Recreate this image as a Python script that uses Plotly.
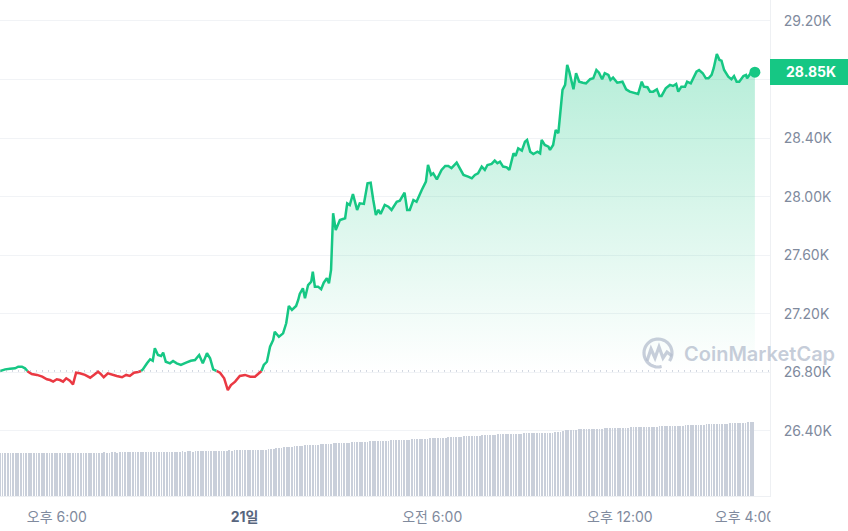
import numpy as np
import plotly.graph_objects as go

# ---------------- data ----------------
START_CLOCK = 16 * 60 + 11  # first sample: 16:11 on the 20th (minutes of day)

t_min = [0, 10, 19, 29, 35, 42, 48, 54, 61, 71, 81, 90, 96, 102, 109, 115, 121, 127, 134, 140,
         146, 153, 163, 173, 180, 188, 194, 199, 207, 215, 224, 234, 242, 249, 257, 265, 269, 274, 282, 288,
         293, 297, 303, 309, 313, 318, 326, 332, 339, 347, 357, 366, 374, 382, 389, 397, 403, 409, 414, 422,
         430, 433, 437, 443, 451, 460, 470, 480, 489, 495, 501, 506, 512, 518, 524, 527, 535, 543, 549, 554,
         560, 568, 572, 575, 581, 585, 591, 597, 600, 604, 610, 616, 621, 627, 631, 635, 639, 644, 652, 662,
         666, 671, 677, 685, 690, 698, 705, 711, 716, 721, 726, 730, 738, 745, 751, 761, 767, 776, 781, 786,
         793, 799, 809, 817, 821, 827, 831, 838, 847, 854, 860, 866, 876, 882, 889, 898, 905, 911, 917, 924,
         930, 935, 943, 949, 954, 959, 965, 972, 977, 985, 989, 994, 1001, 1007, 1011, 1017, 1023, 1031, 1036, 1039,
         1045, 1052, 1055, 1061, 1066, 1071, 1076, 1079, 1084, 1088, 1092, 1100, 1105, 1111, 1118, 1124, 1132, 1138, 1144, 1149,
         1155, 1160, 1167, 1171, 1176, 1184, 1194, 1201, 1208, 1218, 1224, 1231, 1235, 1242, 1247, 1253, 1260, 1265, 1269, 1277,
         1285, 1291, 1297, 1301, 1307, 1314, 1318, 1325, 1330, 1336, 1341, 1348, 1354, 1359, 1365, 1369, 1375, 1380, 1384, 1389,
         1397, 1403, 1408, 1413, 1418, 1426, 1431, 1433, 1440, 1448]

price = [26809, 26820, 26824, 26827, 26838, 26838, 26827, 26804, 26788, 26782, 26770, 26752, 26747, 26736, 26752, 26747, 26736, 26759, 26742, 26718,
         26797, 26793, 26782, 26763, 26782, 26804, 26786, 26766, 26793, 26782, 26775, 26766, 26782, 26775, 26797, 26802, 26804, 26820, 26861, 26889,
         26879, 26964, 26918, 26911, 26934, 26872, 26861, 26877, 26861, 26850, 26866, 26879, 26884, 26918, 26861, 26930, 26896, 26820, 26811, 26797,
         26759, 26725, 26679, 26713, 26736, 26775, 26782, 26770, 26770, 26788, 26804, 26850, 26872, 26975, 27021, 27077, 27043, 27066, 27135, 27253,
         27226, 27253, 27294, 27335, 27374, 27306, 27396, 27419, 27487, 27385, 27385, 27367, 27412, 27442, 27408, 27499, 27886, 27772, 27840, 27852,
         27954, 27943, 28018, 27909, 27954, 27950, 28091, 28095, 27977, 27875, 27909, 27881, 27943, 27931, 27909, 27965, 27972, 28027, 27909, 27909,
         27977, 27965, 28045, 28102, 28216, 28148, 28159, 28118, 28182, 28209, 28209, 28194, 28232, 28194, 28148, 28136, 28125, 28148, 28159, 28205,
         28182, 28216, 28223, 28246, 28228, 28239, 28205, 28200, 28182, 28296, 28278, 28330, 28314, 28375, 28387, 28307, 28291, 28307, 28296, 28387,
         28353, 28341, 28319, 28353, 28455, 28433, 28592, 28729, 28763, 28899, 28854, 28733, 28843, 28785, 28778, 28774, 28802, 28808, 28865, 28847,
         28802, 28843, 28831, 28797, 28813, 28778, 28785, 28733, 28717, 28710, 28701, 28785, 28751, 28747, 28717, 28717, 28733, 28688, 28688, 28740,
         28763, 28756, 28770, 28717, 28751, 28751, 28785, 28774, 28808, 28854, 28865, 28843, 28808, 28808, 28831, 28877, 28974, 28934, 28929, 28865,
         28819, 28802, 28824, 28785, 28785, 28824, 28831, 28808, 28843, 28850]

base_price = 26809  # 24h open, dotted reference line

VOL_STEP = 5  # minutes between volume bars
volume = [  # 24h volume, billions USD
    29.4, 29.5, 29.5, 29.6, 29.5, 29.4, 29.5, 29.6, 29.6, 29.5, 29.5, 29.4, 29.5, 29.6, 29.5, 29.5, 29.6, 29.6, 29.5, 29.5, 29.6, 29.7, 29.6, 29.6,
    29.6, 29.7, 29.6, 29.6, 29.7, 29.7, 29.6, 29.7, 29.8, 29.7, 29.7, 29.8, 29.8, 29.7, 29.8, 29.8, 29.9, 29.8, 29.8, 29.9, 29.9, 29.8, 29.9, 30.0,
    30.0, 29.9, 30.0, 30.0, 30.1, 30.0, 30.1, 30.1, 30.2, 30.3, 30.3, 30.4, 30.4, 30.3, 30.4, 30.4, 30.5, 30.4, 30.5, 30.5, 30.4, 30.5, 30.6, 30.5,
    30.6, 30.6, 30.5, 30.7, 30.7, 30.8, 30.7, 30.8, 30.9, 31.0, 31.0, 30.9, 31.0, 31.1, 31.0, 31.1, 31.2, 31.1, 31.2, 31.3, 31.2, 31.3, 31.4, 31.3,
    31.4, 31.4, 31.5, 31.6, 31.6, 31.7, 31.8, 32.0, 32.2, 32.4, 32.7, 33.0, 33.2, 33.4, 33.6, 33.8, 33.9, 34.1, 34.3, 34.4, 34.6, 34.7, 34.8, 35.0,
    35.1, 35.2, 35.3, 35.5, 35.6, 35.7, 35.8, 35.9, 36.0, 36.1, 36.2, 36.3, 36.4, 36.5, 36.6, 36.7, 36.8, 36.9, 37.0, 37.1, 37.2, 37.3, 37.4, 37.5,
    37.6, 37.6, 37.7, 37.8, 37.9, 38.0, 38.1, 38.2, 38.2, 38.3, 38.4, 38.5, 38.6, 38.7, 38.8, 38.9, 39.0, 39.1, 39.2, 39.3, 39.4, 39.5, 39.6, 39.7,
    39.8, 39.9, 40.0, 40.1, 40.2, 40.3, 40.4, 40.5, 40.6, 40.7, 40.8, 40.9, 41.0, 41.1, 41.2, 41.3, 41.4, 41.5, 41.7, 41.8, 41.9, 42.0, 42.1, 42.3,
    42.4, 42.5, 42.5, 42.6, 42.6, 42.7, 42.7, 42.8, 42.8, 42.9, 42.9, 43.0, 43.0, 43.1, 43.1, 43.2, 43.2, 43.3, 43.3, 43.4, 43.5, 43.6, 43.8, 44.2,
    44.8, 45.2, 45.3, 45.4, 45.4, 45.5, 45.6, 45.6, 45.7, 45.8, 45.8, 45.9, 46.0, 46.1, 46.1, 46.2, 46.3, 46.4, 46.4, 46.5, 46.6, 46.6, 46.7, 46.8,
    46.8, 46.9, 47.0, 47.0, 47.1, 47.2, 47.2, 47.3, 47.4, 47.4, 47.5, 47.6, 47.6, 47.7, 47.8, 47.8, 47.9, 48.0, 48.0, 48.1, 48.2, 48.2, 48.3, 48.4,
    48.5, 48.6, 48.7, 48.8, 48.8, 48.9, 49.0, 49.1, 49.2, 49.2, 49.3, 49.4, 49.5, 49.6, 49.6, 49.7, 49.8, 49.9, 50.0, 50.0, 50.1, 50.2, 50.3, 50.4,
    50.5, 50.7]

y_tickvals = [26400, 26800, 27200, 27600, 28000, 28400, 28800, 29200]
y_ticktext = ["26.40K", "26.80K", "27.20K", "27.60K", "28.00K", "28.40K", "", "29.20K"]

x_tick_clock = [18 * 60, 24 * 60, 30 * 60, 36 * 60, 40 * 60]
x_ticktext = ["오후 6:00", "<span style='color:#58667e'><b>21일</b></span>", "오전 6:00", "오후 12:00", "오후 4:00"]

last_label = "28.85K"

# ---------------- styling ----------------
GREEN = "#16c784"
RED = "#ea3943"
GRAY = "#808a9d"
FONT = "Inter, 'Noto Sans CJK KR', sans-serif"

W, H = 848, 531
ML, MR, MT, MB = 0, 78, 0, 35
PW, PH = W - ML - MR, H - MT - MB
X_RANGE = [0, 1477]
Y_RANGE = [25955, 29343]


def px(xp):
    return (xp - ML) / PW


def py(yp):
    return 1 - (yp - MT) / PH


# split the price line into segments above (green) and below (red) the base
def split(t, p, base):
    gx, gy, rx, ry, fx, fy = [], [], [], [], [], []
    for i in range(len(p)):
        up = p[i] >= base
        if i > 0:
            prev_up = p[i - 1] >= base
            if up != prev_up:
                f = (base - p[i - 1]) / (p[i] - p[i - 1])
                tc = t[i - 1] + f * (t[i] - t[i - 1])
                fx.append(tc)
                fy.append(base)
                if prev_up:
                    gx += [tc, None]; gy += [base, None]
                    rx.append(tc); ry.append(base)
                else:
                    rx += [tc, None]; ry += [base, None]
                    gx.append(tc); gy.append(base)
        if up:
            gx.append(t[i]); gy.append(p[i])
        else:
            rx.append(t[i]); ry.append(p[i])
        fx.append(t[i])
        fy.append(max(p[i], base))
    return gx, gy, rx, ry, fx, fy


gx, gy, rx, ry, fx, fy = split(t_min, price, base_price)
vol_t = [i * VOL_STEP for i in range(len(volume))]

fig = go.Figure()

# volume bars
fig.add_trace(go.Bar(x=vol_t, y=volume, width=1.5, marker=dict(color="#c9cfda", line=dict(width=0)),
                     yaxis="y2", hoverinfo="skip", showlegend=False))

# gradient fill above base
fig.add_trace(go.Scatter(
    x=fx + [fx[-1], fx[0]], y=fy + [base_price, base_price],
    mode="lines", line=dict(width=0), fill="toself",
    fillgradient=dict(type="vertical", start=base_price, stop=max(price),
                      colorscale=[[0, "rgba(22,199,132,0.0)"], [1, "rgba(22,199,132,0.32)"]]),
    hoverinfo="skip", showlegend=False))

fig.add_trace(go.Scatter(x=rx, y=ry, mode="lines", line=dict(color=RED, width=2.5),
                         connectgaps=False, showlegend=False, hoverinfo="skip"))
fig.add_trace(go.Scatter(x=gx, y=gy, mode="lines", line=dict(color=GREEN, width=2.5),
                         connectgaps=False, showlegend=False, hoverinfo="skip"))
fig.add_trace(go.Scatter(x=[t_min[-1]], y=[price[-1]], mode="markers",
                         marker=dict(color=GREEN, size=11), showlegend=False, hoverinfo="skip"))

shapes = []
# dotted base line
shapes.append(dict(type="line", xref="paper", yref="y", x0=0, x1=1, y0=base_price, y1=base_price,
                   line=dict(color="#a6b0c3", width=1, dash="1px,5px"), layer="above"))
# last price box
shapes.append(dict(type="rect", xref="paper", yref="paper", x0=px(770), x1=px(848), y0=py(85), y1=py(59),
                   fillcolor=GREEN, line=dict(width=0), layer="above"))
# clip the last x label at the plot edge
shapes.append(dict(type="rect", xref="paper", yref="paper", x0=px(770.5), x1=px(795), y0=py(500), y1=py(531),
                   fillcolor="white", line=dict(width=0), layer="above"))

# CoinMarketCap logo (circle + M)
cx, cy, r = 658, 353, 14
ang = np.radians(np.linspace(-35, 285, 40))
arc = [(cx + r * np.cos(a), cy - r * np.sin(a)) for a in ang]
path = "M " + " L ".join(f"{px(x):.5f},{py(y):.5f}" for x, y in arc)
mpts = [(647, 361), (651, 349), (655, 358), (659, 347), (663, 358), (667, 352), (672, 356)]
path2 = "M " + " L ".join(f"{px(x):.5f},{py(y):.5f}" for x, y in mpts)
logo_col = "rgba(180,189,205,0.75)"
shapes.append(dict(type="path", xref="paper", yref="paper", path=path, line=dict(color=logo_col, width=3.2), layer="above"))
shapes.append(dict(type="path", xref="paper", yref="paper", path=path2, line=dict(color=logo_col, width=3.2), layer="above"))

annotations = [
    dict(x=px(784), y=py(72), xref="paper", yref="paper", text=f"<b>{last_label}</b>", showarrow=False,
         xanchor="left", yanchor="middle", font=dict(color="white", size=14, family=FONT)),
    dict(x=px(682), y=py(354), xref="paper", yref="paper", text="CoinMarketCap", showarrow=False,
         xanchor="left", yanchor="middle", font=dict(color="rgba(180,189,205,0.75)", size=20, family=FONT, weight=600)),
]

fig.update_layout(
    width=W, height=H, margin=dict(l=ML, r=MR, t=MT, b=MB),
    paper_bgcolor="white", plot_bgcolor="white",
    showlegend=False, bargap=0,
    font=dict(family=FONT, color=GRAY, size=14),
    xaxis=dict(range=X_RANGE, tickvals=[c - START_CLOCK for c in x_tick_clock], ticktext=x_ticktext,
               showgrid=False, zeroline=False, showline=True, linecolor="#eef0f3", linewidth=1,
               ticks="outside", ticklen=8, tickcolor="rgba(0,0,0,0)",
               tickfont=dict(size=14, color=GRAY, family=FONT), fixedrange=True),
    yaxis=dict(range=Y_RANGE, side="right", tickvals=y_tickvals, ticktext=y_ticktext,
               showgrid=True, gridcolor="#f1f3f6", gridwidth=1, zeroline=False,
               showline=True, linecolor="#eef0f3", linewidth=1,
               ticks="outside", ticklen=10, tickcolor="rgba(0,0,0,0)",
               tickfont=dict(size=14, color=GRAY, family=FONT)),
    yaxis2=dict(range=[0, 340], overlaying="y", visible=False, showgrid=False),
    shapes=shapes, annotations=annotations,
)

fig.write_html("out.html", config={"displayModeBar": False},
               post_script="document.body.style.margin='0';document.body.style.overflow='hidden';")
